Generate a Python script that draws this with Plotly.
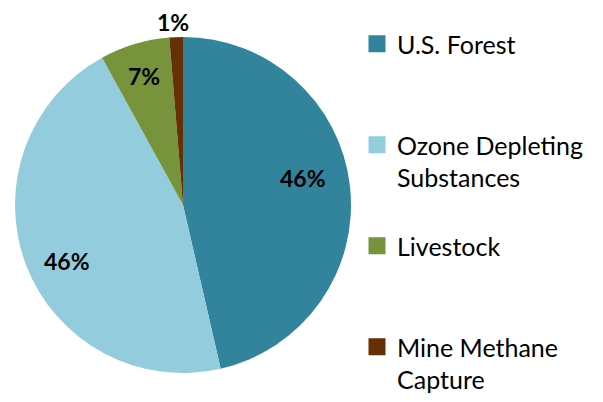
import math
import plotly.graph_objects as go

categories = ["U.S. Forest", "Ozone Depleting Substances", "Livestock", "Mine Methane Capture"]
legend_names = ["U.S. Forest<br> ", "Ozone Depleting<br>Substances", "Livestock<br> ", "Mine Methane<br>Capture"]
values = [46.4, 45.6, 6.7, 1.3]
colors = ["#31849B", "#93CDDD", "#77933C", "#663005"]

# figure geometry (the page body adds an 8px margin)
W, H = 595, 394
CX, CY, R = 175, 197, 168

fig = go.Figure()
fig.add_trace(go.Pie(
    labels=categories, values=values, sort=False, direction="clockwise", rotation=0,
    marker=dict(colors=colors, line=dict(width=0)),
    textinfo="none",
    showlegend=False,
    domain=dict(x=[(CX - R) / W, (CX + R) / W], y=[1 - (CY + R) / H, 1 - (CY - R) / H]),
    hoverinfo="label+percent",
))
for name, c, i in zip(legend_names, colors, range(4)):
    fig.add_trace(go.Scatter(
        x=[None], y=[None], mode="markers", name=name, legendgroup=str(i),
        marker=dict(symbol="square", size=14, color=c, line=dict(color=c, width=3)),
    ))

# percentage labels placed around each slice's mid-angle
total = sum(values)
label_r = [0.73, 0.77, 0.80, 1.09]
label_da = [-6.0, -5.0, 0.0, -0.9]
annotations = []
start = 0.0
for v, rf, da in zip(values, label_r, label_da):
    span = v / total * 360.0
    a = math.radians(start + span / 2 + da)
    px = CX + rf * R * math.sin(a)
    py = CY - rf * R * math.cos(a)
    annotations.append(dict(
        x=px / W, y=1 - py / H, xref="paper", yref="paper",
        text=f"{round(v / total * 100)}%", showarrow=False,
        xanchor="center", yanchor="middle",
        font=dict(family="Lato", size=23, color="black", weight="bold"),
    ))
    start += span

fig.update_layout(
    width=W, height=H, margin=dict(l=0, r=0, t=0, b=0),
    paper_bgcolor="white", plot_bgcolor="white",
    xaxis=dict(visible=False), yaxis=dict(visible=False),
    showlegend=True,
    annotations=annotations,
    legend=dict(x=349 / W, y=1 - 27 / H, xanchor="left", yanchor="top",
                font=dict(family="Lato", size=25, color="black"),
                tracegroupgap=33, valign="top", itemsizing="trace",
                bgcolor="rgba(0,0,0,0)"),
)
fig.write_html("out.html")
